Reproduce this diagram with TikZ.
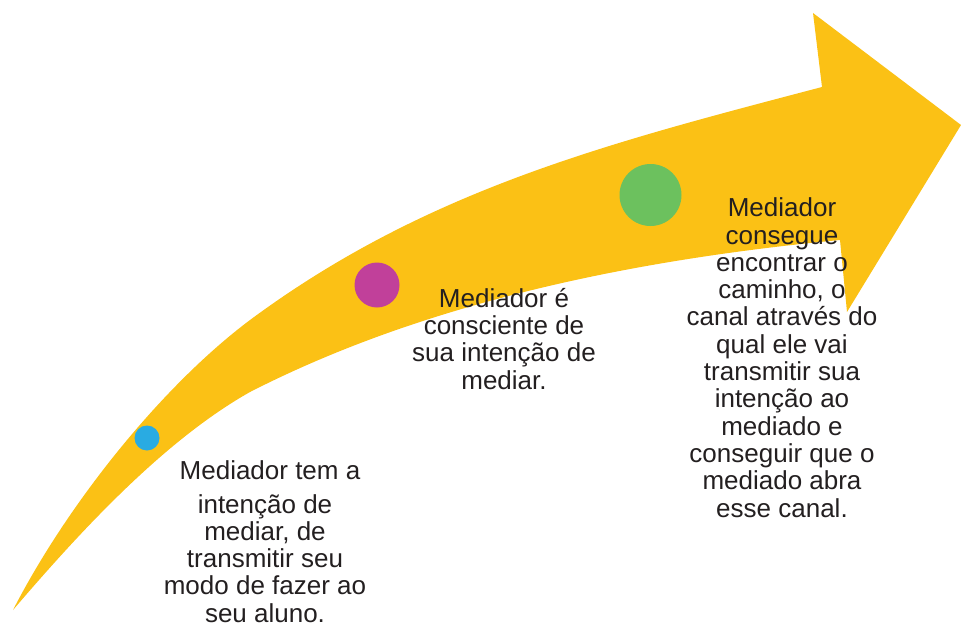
\documentclass[tikz,border=0pt]{standalone}
\usepackage{fontspec}
\setmainfont{Liberation Sans}
\definecolor{arrowyellow}{HTML}{FBC115}
\definecolor{dotblue}{HTML}{29ABE2}
\definecolor{dotmagenta}{HTML}{C1409A}
\definecolor{dotgreen}{HTML}{6CC15E}
\definecolor{txt}{HTML}{231F20}
\tikzset{
  dot/.style={circle, inner sep=0pt, draw=none},
  label text/.style={align=center, anchor=base, inner sep=0pt, text=txt,
    font=\fontsize{26}{27.3}\selectfont},
}
\begin{document}
\begin{tikzpicture}[x=1pt, y=-1pt]
\useasboundingbox (0,0) rectangle (961,626);
% arrow
\fill[arrowyellow]
  (13,610) .. controls (68,503) and (162,386) .. (250,320)
  .. controls (427,189) and (609,143) .. (822,87)
  -- (813,13) -- (961,125) -- (847,312) -- (840,240)
  .. controls (641,259) and (430,300) .. (250,392)
  .. controls (163,441) and (78,534) .. (13,610)
  -- cycle;
% dots
\node[dot, fill=dotblue, minimum size=25pt] (d1) at (147,438) {};
\node[dot, fill=dotmagenta, minimum size=45pt] (d2) at (377,285) {};
\node[dot, fill=dotgreen, minimum size=62pt] (d3) at (650.5,195) {};
% texts (anchor = baseline of the last line)
\node[label text] (t1a) at (270,479.3) {Mediador tem a};
\node[label text] (t1b) at (265,622.2) {intenção de\\mediar, de\\transmitir seu\\modo de fazer ao\\seu aluno.};
\node[label text] (t2) at (504,389.2) {Mediador é\\consciente de\\sua intenção de\\mediar.};
\node[label text] (t3) at (782,517) {Mediador\\consegue\\encontrar o\\caminho, o\\canal através do\\qual ele vai\\transmitir sua\\intenção ao\\mediado e\\conseguir que o\\mediado abra\\esse canal.};
\end{tikzpicture}
\end{document}
